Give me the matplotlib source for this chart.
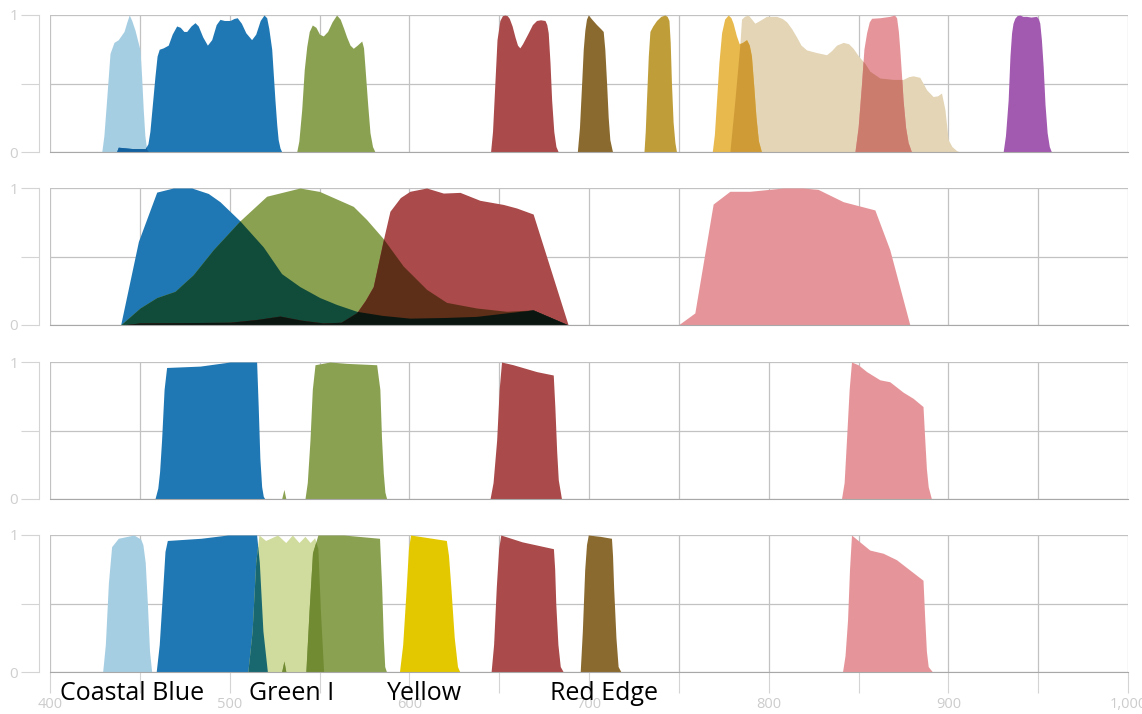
import numpy as np
import matplotlib
matplotlib.use('Agg')
import matplotlib.pyplot as plt
from matplotlib.colors import to_rgb
from matplotlib.transforms import blended_transform_factory
from itertools import combinations

# ---- panel 1 : many narrow bands ----
p1_coastal_wl = [428.8, 430.0, 431.5, 433.4, 435.6, 438.0, 441.2, 442.8, 444.1, 445.5, 447.3, 450.1,
                 451.0, 451.9, 452.8, 453.8, 455.0]
p1_coastal_val = [0, 0.12, 0.38, 0.72, 0.80, 0.82, 0.88, 0.95, 1.0, 0.96, 0.89, 0.745,
                  0.55, 0.31, 0.12, 0.02, 0]

p1_blue_wl = [437.0, 438.0, 446.0, 453.0, 454.5, 455.6, 457.0, 458.4, 459.6, 460.8, 463.0, 465.8,
              468.0, 470.5, 472.5, 474.5, 476.1, 478.5, 480.7, 482.5, 485.0, 487.6, 490.0, 492.5,
              494.6, 497.0, 500.2, 502.5, 504.2, 506.5, 509.0, 512.2, 514.5, 517.0, 519.1, 520.6,
              521.8, 523.4, 525.2, 526.2, 527.0, 528.0, 529.0]
p1_blue_val = [0, 0.035, 0.025, 0.025, 0.06, 0.15, 0.35, 0.55, 0.70, 0.75, 0.76, 0.78,
               0.86, 0.92, 0.91, 0.88, 0.88, 0.92, 0.944, 0.92, 0.84, 0.78, 0.82, 0.93,
               0.968, 0.96, 0.96, 0.975, 0.98, 0.94, 0.87, 0.82, 0.86, 0.96, 1.0, 0.98,
               0.90, 0.75, 0.38, 0.20, 0.09, 0.03, 0]

p1_green_wl = [537.3, 538.5, 540.1, 541.5, 542.9, 544.3, 546.0, 548.0, 550.0, 552.1, 554.5, 557.0,
               559.5, 561.5, 563.5, 565.1, 567.0, 568.8, 571.0, 573.5, 574.5, 575.3, 576.8, 578.1,
               579.5, 580.9]
p1_green_val = [0, 0.08, 0.31, 0.60, 0.77, 0.88, 0.927, 0.91, 0.86, 0.847, 0.88, 0.95,
                1.0, 0.97, 0.90, 0.84, 0.78, 0.757, 0.78, 0.81, 0.76, 0.62, 0.35, 0.14,
                0.04, 0]

p1_red_wl = [645.2, 646.3, 647.6, 648.8, 650.4, 651.8, 653.2, 654.5, 655.6, 657.2, 658.8, 660.2,
             661.5, 663.0, 666.2, 668.5, 670.8, 673.0, 675.5, 676.5, 677.3, 678.3, 679.2, 680.4,
             681.6, 682.9]
p1_red_val = [0, 0.15, 0.5, 0.82, 0.96, 0.995, 1.0, 0.995, 0.976, 0.92, 0.84, 0.78,
              0.76, 0.79, 0.87, 0.93, 0.96, 0.965, 0.96, 0.93, 0.87, 0.65, 0.38, 0.15,
              0.04, 0]

p1_brown_wl = [693.5, 694.7, 695.9, 696.8, 697.7, 698.6, 699.6, 701.5, 704.2, 706.5, 707.9, 708.8,
               709.8, 710.7, 711.6, 713.1]
p1_brown_val = [0, 0.18, 0.5, 0.75, 0.89, 0.97, 1.0, 0.97, 0.93, 0.90, 0.88, 0.75,
                0.5, 0.25, 0.09, 0]

p1_gold_wl = [730.6, 731.3, 732.0, 733.0, 733.9, 735.5, 737.6, 740.0, 742.2, 743.5, 744.5, 745.2,
              745.9, 746.8, 747.8, 748.7]
p1_gold_val = [0, 0.15, 0.38, 0.70, 0.88, 0.92, 0.96, 0.99, 1.0, 0.99, 0.96, 0.80,
               0.5, 0.22, 0.07, 0]

p1_yellow_wl = [768.6, 769.8, 771.0, 772.3, 773.8, 775.5, 777.5, 779.0, 780.2, 782.0, 783.6, 785.5,
                787.7, 789.2, 790.4, 791.7, 792.9, 794.3, 796.0]
p1_yellow_val = [0, 0.13, 0.38, 0.65, 0.87, 0.97, 1.0, 0.98, 0.94, 0.85, 0.79, 0.80,
                 0.82, 0.78, 0.70, 0.48, 0.26, 0.08, 0]

p1_beige_wl = [778.4, 781.0, 784.0, 784.9, 786.5, 788.6, 790.5, 792.3, 795.0, 798.8, 804.4, 807.5,
               810.0, 812.8, 815.5, 818.0, 821.1, 826.6, 832.2, 835.0, 837.8, 841.5, 844.5, 847.0,
               850.0, 853.5, 856.3, 861.9, 869.3, 874.8, 878.0, 880.4, 884.1, 886.0, 887.9, 891.5,
               894.0, 896.2, 898.1, 899.9, 902.0, 904.6, 906.4]
p1_beige_val = [0, 0.35, 0.79, 0.97, 0.99, 1.0, 0.97, 0.94, 0.96, 0.99, 0.99, 0.975,
                0.95, 0.90, 0.84, 0.78, 0.745, 0.726, 0.71, 0.74, 0.78, 0.80, 0.79, 0.757,
                0.70, 0.648, 0.59, 0.54, 0.53, 0.53, 0.55, 0.556, 0.545, 0.50, 0.454, 0.405,
                0.41, 0.43, 0.31, 0.09, 0.04, 0.01, 0]

p1_pink_wl = [848.0, 849.8, 851.7, 853.0, 854.5, 856.0, 857.3, 861.9, 867.4, 870.0, 871.2, 872.2,
              873.0, 874.0, 874.8, 876.2, 877.6, 879.5]
p1_pink_val = [0, 0.18, 0.5, 0.75, 0.87, 0.95, 0.976, 0.98, 0.99, 1.0, 0.98, 0.88,
               0.745, 0.55, 0.38, 0.18, 0.07, 0]

p1_purple_wl = [930.5, 931.8, 933.3, 934.3, 935.2, 936.0, 937.0, 938.2, 939.8, 941.5, 943.5, 946.0,
                949.1, 950.2, 950.9, 951.8, 952.8, 953.8, 955.0, 956.2, 957.4]
p1_purple_val = [0, 0.12, 0.38, 0.70, 0.87, 0.94, 0.976, 0.995, 1.0, 0.99, 0.99, 0.985,
                 0.99, 0.97, 0.94, 0.82, 0.62, 0.35, 0.14, 0.04, 0]

# ---- panel 2 : broad RGB + NIR ----
p2_blue_wl = [439.3, 449.2, 459.4, 468.6, 478.9, 488.1, 494.6, 505.7, 518.7, 528.9, 539.1, 550.2,
              559.5, 570.7, 585.0, 600.3, 620.0, 637.4, 655.0, 668.9, 688.4]
p2_blue_val = [0, 0.61, 0.97, 1.0, 1.0, 0.96, 0.90, 0.76, 0.57, 0.375, 0.28, 0.20,
               0.15, 0.10, 0.07, 0.05, 0.055, 0.063, 0.09, 0.11, 0]

p2_green_wl = [439.3, 450.1, 459.4, 469.6, 479.7, 490.9, 505.7, 520.6, 539.1, 550.0, 568.8, 576.2,
               585.5, 596.6, 609.6, 620.7, 637.4, 654.1, 668.9, 688.4]
p2_green_val = [0, 0.124, 0.20, 0.246, 0.367, 0.55, 0.76, 0.94, 1.0, 0.975, 0.866, 0.77,
                0.63, 0.43, 0.26, 0.165, 0.124, 0.10, 0.11, 0]

p2_red_wl = [440.0, 450.0, 500.0, 515.0, 528.0, 540.0, 552.0, 562.0, 570.7, 575.5, 579.9, 585.5,
             589.2, 595.0, 600.3, 609.6, 618.9, 628.2, 639.3, 652.3, 659.7, 668.9, 688.4]
p2_red_val = [0, 0.015, 0.02, 0.04, 0.065, 0.035, 0.015, 0.02, 0.09, 0.18, 0.28, 0.62,
              0.83, 0.93, 0.976, 1.0, 0.963, 0.968, 0.91, 0.88, 0.854, 0.81, 0]

p2_nir_wl = [749.7, 758.9, 769.1, 778.4, 789.5, 808.1, 819.2, 827.5, 841.5, 859.1, 867.4, 878.6]
p2_nir_val = [0, 0.088, 0.883, 0.976, 0.976, 1.0, 1.0, 0.99, 0.90, 0.84, 0.55, 0]

# ---- panel 3 : four bands ----
p3_blue_wl = [458.4, 460.0, 461.0, 462.1, 463.5, 464.9, 483.5, 500.2, 515.0, 515.9, 516.8, 517.8,
              518.7, 519.6]
p3_blue_val = [0, 0.08, 0.2, 0.43, 0.8, 0.96, 0.97, 1.0, 1.0, 0.67, 0.3, 0.09,
               0.02, 0]

p3_green_wl = [528.9, 530.2, 531.3, 541.9, 543.2, 544.7, 546.0, 547.5, 555.8, 565.1, 581.8, 583.6,
               584.5, 585.5, 586.4, 587.4]
p3_green_val = [0, 0.07, 0, 0, 0.12, 0.43, 0.8, 0.98, 1.0, 0.99, 0.98, 0.80,
                0.45, 0.19, 0.05, 0]

p3_red_wl = [644.9, 646.6, 648.6, 650.0, 651.3, 657.8, 670.8, 680.1, 681.0, 682.0, 682.9, 684.7]
p3_red_val = [0, 0.12, 0.43, 0.8, 1.0, 0.98, 0.93, 0.905, 0.67, 0.35, 0.14, 0]

p3_nir_wl = [840.5, 842.0, 843.3, 844.8, 846.1, 849.8, 854.5, 861.9, 867.4, 874.8, 880.4, 885.9,
             886.9, 887.8, 888.8, 890.6]
p3_nir_val = [0, 0.12, 0.43, 0.8, 1.0, 0.98, 0.93, 0.87, 0.856, 0.78, 0.735, 0.675,
              0.43, 0.22, 0.09, 0]

# ---- panel 4 : eight bands ----
p4_coastal_wl = [429.3, 430.8, 432.5, 434.3, 438.0, 446.7, 450.5, 451.7, 453.0, 454.2, 455.4, 456.6]
p4_coastal_val = [0, 0.2, 0.65, 0.915, 0.976, 1.0, 0.97, 0.93, 0.8, 0.5, 0.15, 0]

p4_blue_wl = [459.1, 460.8, 462.8, 464.0, 465.3, 484.0, 498.9, 515.0, 516.5, 518.5, 521.0]
p4_blue_val = [0, 0.2, 0.62, 0.88, 0.96, 0.976, 1.0, 1.0, 0.8, 0.3, 0]

p4_green1_wl = [510.1, 512.5, 514.5, 516.3, 520.0, 526.7, 531.2, 534.9, 538.6, 541.9, 544.8, 547.3,
                549.1, 550.5, 552.3]
p4_green1_val = [0, 0.3, 0.8, 1.0, 0.96, 1.0, 0.945, 1.0, 0.945, 0.99, 0.945, 0.98,
                 0.9, 0.45, 0]

p4_green_wl = [528.9, 530.2, 531.3, 542.4, 544.2, 546.1, 549.1, 563.5, 583.4, 584.6, 585.5, 586.3,
               587.3]
p4_green_val = [0, 0.08, 0, 0, 0.45, 0.87, 1.0, 1.0, 0.976, 0.62, 0.25, 0.04, 0]

p4_yellow_wl = [594.5, 596.3, 598.3, 599.5, 600.7, 610.7, 620.6, 621.8, 623.1, 625.0, 626.8, 628.1]
p4_yellow_val = [0, 0.2, 0.62, 0.9, 1.0, 0.98, 0.96, 0.85, 0.62, 0.25, 0.04, 0]

p4_red_wl = [645.5, 646.9, 648.4, 649.7, 650.9, 662.8, 680.2, 680.9, 681.5, 682.7, 684.0, 685.7]
p4_red_val = [0, 0.2, 0.62, 0.9, 1.0, 0.95, 0.90, 0.75, 0.5, 0.2, 0.04, 0]

p4_edge_wl = [695.1, 696.3, 697.6, 698.6, 699.6, 706.3, 712.5, 713.1, 713.7, 715.0, 716.2, 717.8]
p4_edge_val = [0, 0.3, 0.745, 0.93, 1.0, 0.99, 0.976, 0.85, 0.62, 0.25, 0.04, 0]

p4_nir_wl = [841.1, 842.5, 843.9, 845.0, 846.1, 850.7, 856.3, 863.7, 871.1, 878.5, 885.9, 886.9,
             887.8, 888.8, 891.2]
p4_nir_val = [0, 0.12, 0.38, 0.75, 1.0, 0.95, 0.89, 0.867, 0.82, 0.745, 0.67, 0.38,
              0.15, 0.04, 0]

band_labels = ['Coastal Blue', 'Green I', 'Yellow', 'Red Edge']
band_label_wl = [445.5, 534.5, 608.5, 708.5]

x_ticks = list(range(400, 1001, 50))
x_labels = ['{:,}'.format(t) if t % 100 == 0 else '' for t in x_ticks]

# colours
C_LBLUE = '#a6cee3'
C_BLUE = '#1f78b4'
C_GREEN = '#8ba152'
C_RED = '#aa4a4a'
C_BROWN = '#8a6a2f'
C_GOLD = '#bf9e3a'
C_YELLOW = '#e8b94d'
C_BEIGE = '#e3d5b5'
C_PINK = '#e5959a'
C_PURPLE = '#a259b0'
C_LGREEN = '#d0dc9e'
C_YEL4 = '#e3c800'

panels = [
    [(p1_beige_wl, p1_beige_val, C_BEIGE), (p1_coastal_wl, p1_coastal_val, C_LBLUE),
     (p1_blue_wl, p1_blue_val, C_BLUE), (p1_green_wl, p1_green_val, C_GREEN),
     (p1_red_wl, p1_red_val, C_RED), (p1_brown_wl, p1_brown_val, C_BROWN),
     (p1_gold_wl, p1_gold_val, C_GOLD), (p1_yellow_wl, p1_yellow_val, C_YELLOW),
     (p1_pink_wl, p1_pink_val, C_PINK), (p1_purple_wl, p1_purple_val, C_PURPLE)],
    [(p2_blue_wl, p2_blue_val, C_BLUE), (p2_green_wl, p2_green_val, C_GREEN),
     (p2_red_wl, p2_red_val, C_RED), (p2_nir_wl, p2_nir_val, C_PINK)],
    [(p3_blue_wl, p3_blue_val, C_BLUE), (p3_green_wl, p3_green_val, C_GREEN),
     (p3_red_wl, p3_red_val, C_RED), (p3_nir_wl, p3_nir_val, C_PINK)],
    [(p4_coastal_wl, p4_coastal_val, C_LBLUE), (p4_blue_wl, p4_blue_val, C_BLUE),
     (p4_green1_wl, p4_green1_val, C_LGREEN), (p4_green_wl, p4_green_val, C_GREEN),
     (p4_yellow_wl, p4_yellow_val, C_YEL4), (p4_red_wl, p4_red_val, C_RED),
     (p4_edge_wl, p4_edge_val, C_BROWN), (p4_nir_wl, p4_nir_val, C_PINK)],
]


def multiply(colors):
    rgb = np.ones(3)
    for c in colors:
        rgb = rgb * np.array(to_rgb(c))
    return tuple(rgb)


W, H = 1142, 714
fig = plt.figure(figsize=(W / 100, H / 100), dpi=100)
plt.rcParams['font.family'] = ['Open Sans', 'DejaVu Sans']

grid = np.arange(400, 1000.01, 0.05)
tops = [15, 188, 362, 535]
ph = 137

for k, bands in enumerate(panels):
    ax = fig.add_axes([50 / W, 1 - (tops[k] + ph) / H, 1078 / W, ph / H])
    ax.set_xlim(400, 1000)
    ax.set_ylim(0, 1)
    ax.set_axisbelow(True)
    ax.grid(color='#c2c2c2', lw=0.9)

    # each band, then darker fills where bands overlap (multiply blend)
    for wl, val, c in bands:
        ax.fill_between(wl, val, 0, color=c, lw=0, zorder=2)
    curves = [np.interp(grid, wl, val, left=0, right=0) for wl, val, _ in bands]
    for n in (2, 3):
        for idx in combinations(range(len(bands)), n):
            m = np.min([curves[i] for i in idx], axis=0)
            if m.max() > 0.003:
                ax.fill_between(grid, m, 0, color=multiply([bands[i][2] for i in idx]),
                                lw=0, zorder=2 + n)

    for s in ['top', 'right']:
        ax.spines[s].set_visible(False)
    ax.spines['bottom'].set_color('#a8a8a8')
    ax.spines['bottom'].set_zorder(6)
    ax.spines['left'].set_position(('outward', 8))
    ax.spines['left'].set_color('#d4d4d4')
    ax.set_yticks([0, 0.5, 1])
    ax.set_yticklabels(['0', '', '1'])
    ax.tick_params(axis='y', length=13, color='#d4d4d4', labelcolor='#cfcfcf',
                   labelsize=11, pad=2)
    ax.set_xticks(x_ticks)
    if k < 3:
        ax.tick_params(axis='x', length=0, labelbottom=False)
    else:
        ax.set_xticklabels(x_labels)
        ax.tick_params(axis='x', length=15, color='#d4d4d4', labelcolor='#cccccc',
                       labelsize=10.5, pad=3)
        tr = blended_transform_factory(ax.transData, ax.transAxes)
        for name, x in zip(band_labels, band_label_wl):
            ax.text(x, -0.155, name, transform=tr, ha='center', va='center',
                    fontsize=18, color='black', zorder=10)

fig.savefig('out.png', dpi=100)
